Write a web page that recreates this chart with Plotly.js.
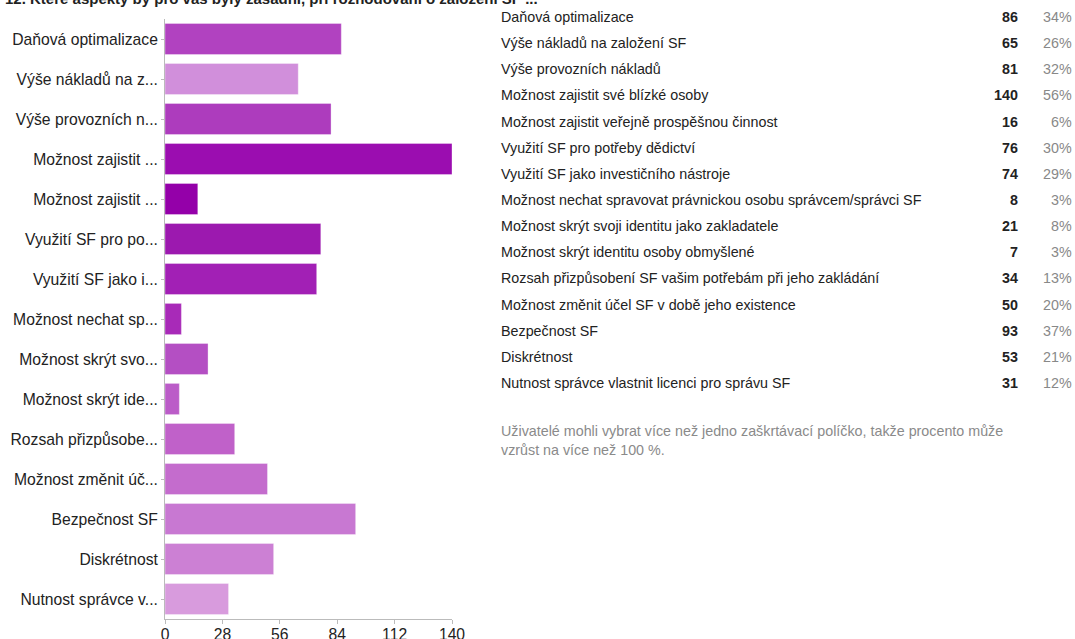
<!DOCTYPE html>
<html>
<head>
<meta charset="utf-8">
<script src="https://cdn.plot.ly/plotly-3.0.1.min.js"></script>
<style>
html,body{margin:0;padding:0;background:#fff;}
#chart{width:1075px;height:639px;}
</style>
</head>
<body>
<div id="chart"></div>
<script>
// ---- data ----
var titleText = "12. Které aspekty by pro vás byly zásadní, při rozhodování o založení SF ...";
var categories = [
  "Daňová optimalizace",
  "Výše nákladů na založení SF",
  "Výše provozních nákladů",
  "Možnost zajistit své blízké osoby",
  "Možnost zajistit veřejně prospěšnou činnost",
  "Využití SF pro potřeby dědictví",
  "Využití SF jako investičního nástroje",
  "Možnost nechat spravovat právnickou osobu správcem/správci SF",
  "Možnost skrýt svoji identitu jako zakladatele",
  "Možnost skrýt identitu osoby obmyšlené",
  "Rozsah přizpůsobení SF vašim potřebám při jeho zakládání",
  "Možnost změnit účel SF v době jeho existence",
  "Bezpečnost SF",
  "Diskrétnost",
  "Nutnost správce vlastnit licenci pro správu SF"
];
var shortLabels = [
  "Daňová optimalizace",
  "Výše nákladů na z...",
  "Výše provozních n...",
  "Možnost zajistit ...",
  "Možnost zajistit ...",
  "Využití SF pro po...",
  "Využití SF jako i...",
  "Možnost nechat sp...",
  "Možnost skrýt svo...",
  "Možnost skrýt ide...",
  "Rozsah přizpůsobe...",
  "Možnost změnit úč...",
  "Bezpečnost SF",
  "Diskrétnost",
  "Nutnost správce v..."
];
var counts = [86, 65, 81, 140, 16, 76, 74, 8, 21, 7, 34, 50, 93, 53, 31];
var percents = ["34%", "26%", "32%", "56%", "6%", "30%", "29%", "3%", "8%", "3%", "13%", "20%", "37%", "21%", "12%"];
var barColors = ["#b142c0", "#d18fdb", "#ad3cbd", "#9b0db0", "#9400a9", "#9c19af", "#a220b5",
  "#a82ab8", "#b44fc3", "#bb5cc8", "#c061c9", "#c46ccd", "#c878d2", "#cc80d4", "#d89bdd"];
var xTicks = [0, 28, 56, 84, 112, 140];
var footnote = "Uživatelé mohli vybrat více než jedno zaškrtávací políčko, takže procento může<br>vzrůst na více než 100 %.";

// ---- layout geometry ----
var W = 1075, H = 639;
var M = {l: 165, r: 623, t: 19, b: 20};
var PW = W - M.l - M.r, PH = H - M.t - M.b;
function px2x(px) { return (px - M.l) / PW; }
function py2y(py) { return 1 - (py - M.t) / PH; }

var FONT = '"Liberation Sans", Arial, sans-serif';
var AXFS = 15.7, TBFS = 14.3;

var trace = {
  type: 'bar',
  orientation: 'h',
  x: counts,
  y: categories,
  width: 0.78,
  marker: {color: barColors, line: {color: 'rgba(255,255,255,0.35)', width: 1}},
  hoverinfo: 'x+y'
};

var annotations = [];
// clipped title
annotations.push({
  xref: 'paper', yref: 'paper', x: px2x(3), y: py2y(9),
  xanchor: 'left', yanchor: 'bottom', showarrow: false,
  text: '<b>' + titleText + '</b>',
  font: {family: FONT, size: 15, color: '#222'}
});
// right table
var rowTop = 17, rowStep = 26.14;
for (var i = 0; i < categories.length; i++) {
  var yy = py2y(rowTop + i * rowStep);
  annotations.push({xref: 'paper', yref: 'paper', x: px2x(499), y: yy, xanchor: 'left', yanchor: 'middle',
    showarrow: false, text: categories[i], font: {family: FONT, size: TBFS, color: '#222'}});
  annotations.push({xref: 'paper', yref: 'paper', x: px2x(1020), y: yy, xanchor: 'right', yanchor: 'middle',
    showarrow: false, text: '<b>' + counts[i] + '</b>', font: {family: FONT, size: TBFS, color: '#222'}});
  annotations.push({xref: 'paper', yref: 'paper', x: px2x(1074), y: yy, xanchor: 'right', yanchor: 'middle',
    showarrow: false, text: percents[i], font: {family: FONT, size: TBFS, color: '#888'}});
}
annotations.push({xref: 'paper', yref: 'paper', x: px2x(499), y: py2y(421), xanchor: 'left', yanchor: 'top',
  align: 'left', showarrow: false, text: footnote, font: {family: FONT, size: TBFS, color: '#8a8a8a'}});

var layout = {
  width: W, height: H,
  margin: M,
  paper_bgcolor: '#fff', plot_bgcolor: '#fff',
  showlegend: false,
  font: {family: FONT, size: AXFS, color: '#222'},
  xaxis: {
    range: [0, 140], tickmode: 'array', tickvals: xTicks,
    showgrid: false, zeroline: false,
    showline: true, linecolor: '#bbb', linewidth: 1,
    ticks: 'outside', ticklen: 4, tickcolor: '#bbb',
    ticklabelstandoff: -3,
    tickfont: {family: FONT, size: AXFS, color: '#222'},
    fixedrange: true
  },
  yaxis: {
    type: 'category',
    categoryorder: 'array', categoryarray: categories,
    range: [categories.length - 0.5, -0.5],
    tickmode: 'array', tickvals: categories, ticktext: shortLabels,
    showgrid: false, zeroline: false,
    showline: true, linecolor: '#bbb', linewidth: 1,
    ticks: 'outside', ticklen: 3, tickcolor: '#bbb',
    tickfont: {family: FONT, size: AXFS, color: '#222'},
    fixedrange: true
  },
  annotations: annotations,
  bargap: 0.2
};

Plotly.newPlot('chart', [trace], layout, {displayModeBar: false, staticPlot: true});
</script>
</body>
</html>
